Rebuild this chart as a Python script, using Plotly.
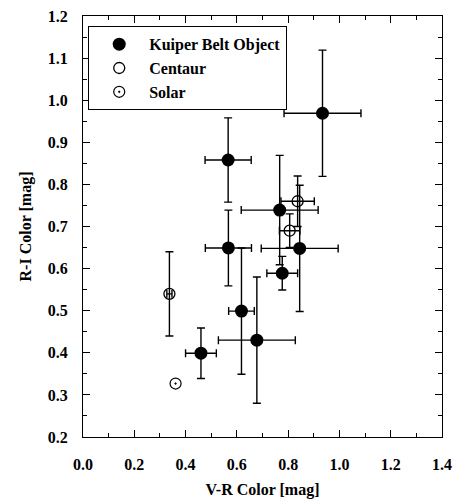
import plotly.graph_objects as go

# Kuiper Belt Objects
kbo_vr = [0.934, 0.566, 0.767, 0.567, 0.845, 0.777, 0.618, 0.678, 0.460]
kbo_ri = [0.969, 0.858, 0.739, 0.649, 0.648, 0.589, 0.499, 0.430, 0.399]
kbo_vr_err = [0.15, 0.09, 0.15, 0.09, 0.15, 0.06, 0.05, 0.15, 0.06]
kbo_ri_err = [0.15, 0.10, 0.13, 0.09, 0.15, 0.04, 0.15, 0.15, 0.06]

# Centaurs
cen_vr = [0.837, 0.806, 0.337]
cen_ri = [0.760, 0.690, 0.540]
cen_vr_err = [0.065, 0.04, 0.01]
cen_ri_err = [0.06, 0.04, 0.10]

# Solar colours
sol_vr = [0.361]
sol_ri = [0.327]

FONT = "Liberation Serif"

fig = go.Figure()
err_style = dict(type="data", color="black", thickness=1.4, width=4)

fig.add_trace(go.Scatter(
    x=kbo_vr, y=kbo_ri, mode="markers", name="Kuiper Belt Object",
    marker=dict(symbol="circle", size=13, color="black"),
    error_x=dict(array=kbo_vr_err, **err_style),
    error_y=dict(array=kbo_ri_err, **err_style),
))
fig.add_trace(go.Scatter(
    x=cen_vr, y=cen_ri, mode="markers", name="Centaur",
    marker=dict(symbol="circle-open", size=11, color="black", line=dict(width=1.3)),
    error_x=dict(array=cen_vr_err, **err_style),
    error_y=dict(array=cen_ri_err, **err_style),
))
fig.add_trace(go.Scatter(
    x=sol_vr, y=sol_ri, mode="markers", name="Solar",
    marker=dict(symbol="circle-open-dot", size=11, color="black", line=dict(width=1.2)),
))

tick_font = dict(family=FONT, size=16, color="black", weight="bold")
title_font = dict(family=FONT, size=16, color="black", weight="bold")

axis_common = dict(
    showline=True, linecolor="black", linewidth=1.3, mirror="ticks",
    ticks="inside", ticklen=7, tickwidth=1.2, tickcolor="black",
    showgrid=False, zeroline=False, automargin=False,
    tickfont=tick_font,
)

fig.update_xaxes(
    range=[0.0, 1.4], dtick=0.2, tickformat=".1f", ticklabelstandoff=13,
    title=dict(text="V-R Color [mag]", font=title_font, standoff=11),
    minor=dict(ticks="inside", ticklen=4, dtick=0.1, tickcolor="black", tickwidth=1),
    **axis_common,
)
fig.update_yaxes(
    range=[0.2, 1.2], dtick=0.1, tickformat=".1f", ticklabelstandoff=11,
    title=dict(text="R-I Color [mag]", font=title_font, standoff=12),
    minor=dict(ticks="inside", ticklen=4, dtick=0.05, tickcolor="black", tickwidth=1),
    **axis_common,
)

fig.update_layout(
    width=461, height=499,
    margin=dict(l=83, r=19, t=16, b=62),
    plot_bgcolor="white", paper_bgcolor="white",
    font=dict(family=FONT, size=16, color="black"),
    legend=dict(
        x=0.014, y=0.976, xanchor="left", yanchor="top",
        bgcolor="white", bordercolor="black", borderwidth=1.2,
        font=dict(family=FONT, size=16, color="black", weight="bold"),
        itemwidth=50,
    ),
    showlegend=True,
)

# remove the default page margin so the figure sits at the window's top-left corner
fig.write_html("out.html", config={"displayModeBar": False},
               post_script="document.body.style.margin='0';")
